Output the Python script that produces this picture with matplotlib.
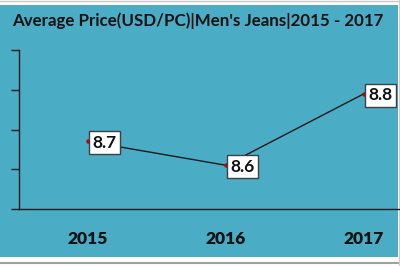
import matplotlib
matplotlib.use("Agg")
import matplotlib.pyplot as plt
from matplotlib.patches import Rectangle
from matplotlib.lines import Line2D

years = ["2015", "2016", "2017"]
prices = [8.67, 8.61, 8.79]
price_labels = ["8.7", "8.6", "8.8"]
title = "Average Price(USD/PC)|Men's Jeans|2015 - 2017"

W, H = 400, 266
fig = plt.figure(figsize=(W / 100, H / 100), dpi=100)
fig.patch.set_facecolor("white")

teal = "#4BACC6"
# background panel
fig.patches.append(Rectangle((0, 9 / H), 398 / W, 252 / H, transform=fig.transFigure,
                             facecolor=teal, edgecolor="none", zorder=-10))
fig.lines.append(Line2D([0, 1], [1 - 0.5 / H, 1 - 0.5 / H], transform=fig.transFigure,
                        color="#c8c8c8", lw=1, zorder=-5))
fig.lines.append(Line2D([0, 1], [3 / H, 3 / H], transform=fig.transFigure,
                        color="#a0a0a0", lw=1.5, zorder=-5))
fig.lines.append(Line2D([399 / W, 399 / W], [0, 1], transform=fig.transFigure,
                        color="#d0d0d0", lw=1, zorder=-5))

ax = fig.add_axes([19 / W, 57 / H, 414 / W, 159 / H])
ax.set_zorder(2)
ax.set_facecolor("none")
x = list(range(len(years)))
ax.plot(x, prices, color="#1a1a1a", lw=1.0, marker="o", markersize=2.2,
        markerfacecolor="#c00000", markeredgecolor="#c00000", zorder=3)
ax.set_xlim(-0.5, 2.5)
ax.set_ylim(8.5, 8.9)
ax.set_yticks([8.5, 8.6, 8.7, 8.8, 8.9])
ax.set_yticklabels([])
ax.tick_params(axis="y", direction="out", length=6, width=1, color="#1a1a1a")
ax.set_xticks(x)
ax.set_xticklabels(years, fontsize=12.5, fontweight="heavy", family="Lato", color="#111111")
ax.tick_params(axis="x", length=0, pad=16)
for s in ["top", "right"]:
    ax.spines[s].set_visible(False)
for s in ["left", "bottom"]:
    ax.spines[s].set_color("#1a1a1a")
    ax.spines[s].set_linewidth(1)

for xi, yi, lab in zip(x, prices, price_labels):
    ax.annotate(lab, (xi, yi), xytext=(4, 0), textcoords="offset pixels",
                ha="left", va="center_baseline", fontsize=12.5, family="Lato",
                fontweight="bold", color="#111111",
                bbox=dict(boxstyle="square,pad=0.2", facecolor="white",
                          edgecolor="#404040", lw=1), zorder=5)

fig.text(12 / W, 1 - 21 / H, title, ha="left", va="center", fontsize=12.2,
         fontweight="bold", family="Lato", color="#111111")

fig.savefig("out.png", dpi=100, facecolor=fig.get_facecolor())
